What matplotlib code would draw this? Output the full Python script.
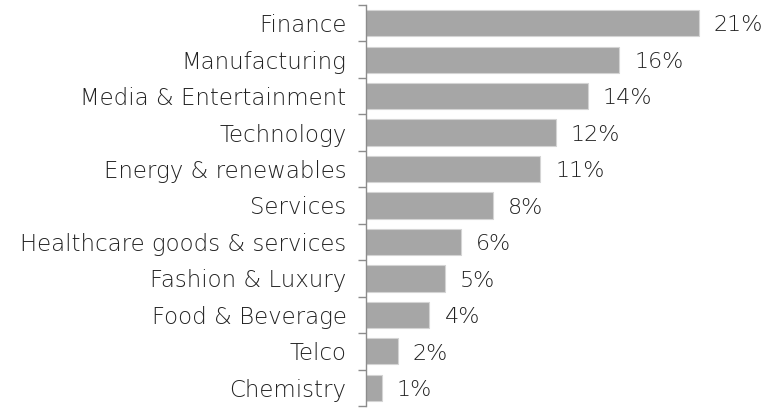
import numpy as np
import matplotlib.pyplot as plt

sectors = ["Finance", "Manufacturing", "Media & Entertainment", "Technology",
           "Energy & renewables", "Services", "Healthcare goods & services",
           "Fashion & Luxury", "Food & Beverage", "Telco", "Chemistry"]
shares = [21, 16, 14, 12, 11, 8, 6, 5, 4, 2, 1]

plt.rcParams['font.family'] = ['DejaVu Sans']

fig = plt.figure(figsize=(7.63, 4.08), dpi=100)
ax = fig.add_axes([366 / 763, 2 / 408, 380 / 763, 401 / 408])

y = np.arange(len(sectors))
ax.barh(y, shares, height=0.72, color='#A6A6A6', edgecolor='#D4D4D4', linewidth=0.8)

# value labels right of each bar
for yi, v in zip(y, shares):
    ax.text(v + 0.95, yi + 0.06, f"{v}%", va='center', ha='left',
            fontsize=16, color='#222222', fontweight='light')

ax.set_xlim(0, 24)
ax.set_ylim(len(sectors) - 0.5, -0.5)
ax.set_yticks(y)
ax.set_yticklabels(sectors, fontsize=16.5, color='#222222', fontweight='light')
# category boundary ticks, Excel style
ax.set_yticks(np.arange(len(sectors) + 1) - 0.5, minor=True)
ax.tick_params(axis='y', which='major', length=0, pad=14)
ax.tick_params(axis='y', which='minor', length=6, width=1, color='#8C8C8C')
ax.set_xticks([])

for s in ['top', 'right', 'bottom']:
    ax.spines[s].set_visible(False)
ax.spines['left'].set_color('#8C8C8C')
ax.spines['left'].set_linewidth(1)

fig.savefig('out.png', dpi=100)
